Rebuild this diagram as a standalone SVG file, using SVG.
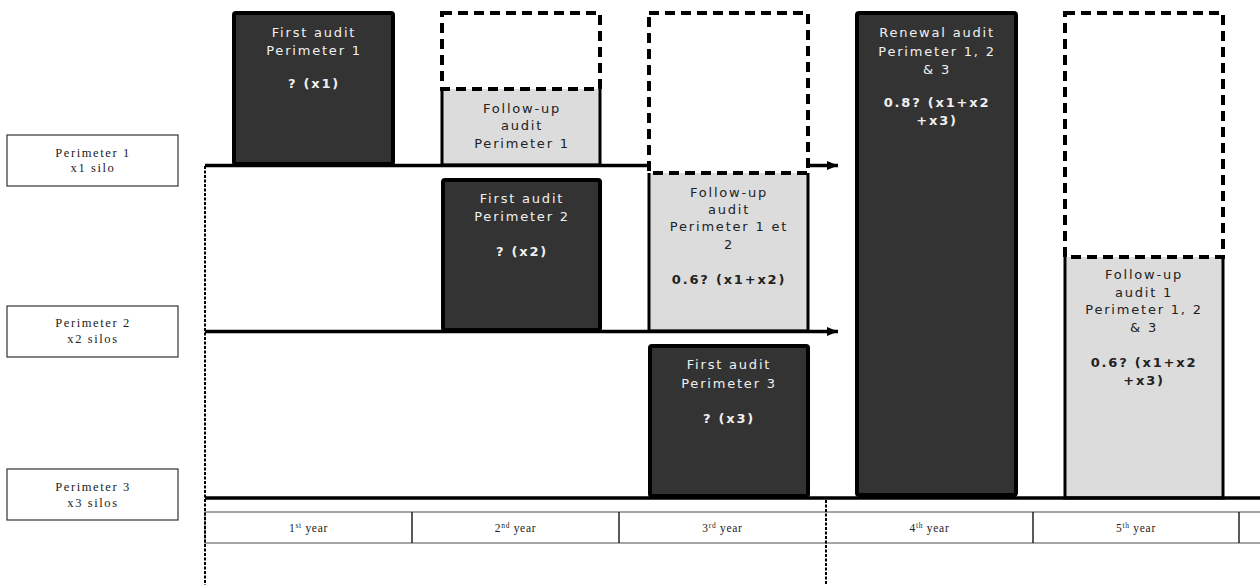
<svg xmlns="http://www.w3.org/2000/svg" width="1260" height="585" viewBox="0 0 1260 585">
<style>
.bg{fill:#ffffff}
.lab{fill:#ffffff;stroke:#333333;stroke-width:1.2}
.labt{font-family:"Liberation Serif",serif;font-size:12.5px;letter-spacing:1.6px;fill:#222222;text-anchor:middle}
.dark{fill:#333333;stroke:#000000;stroke-width:4}
.grayf{fill:#dcdcdc}
.grays{fill:none;stroke:#000000;stroke-width:3}
.dash{fill:none;stroke:#000000;stroke-width:4;stroke-dasharray:10 6}
.dt{font-family:"DejaVu Sans",Verdana,sans-serif;font-size:13px;letter-spacing:1.8px;fill:#f0f0f0;text-anchor:middle}
.gt{font-family:"DejaVu Sans",Verdana,sans-serif;font-size:13px;letter-spacing:1.8px;fill:#222222;text-anchor:middle}
.b{font-weight:bold}
.tl{stroke:#000000;stroke-width:3.5;fill:none}
.dot{stroke:#000000;stroke-width:2;stroke-dasharray:3 1.5;fill:none}
.yr{fill:#ffffff;stroke:#888888;stroke-width:1.5}
.div{stroke:#222222;stroke-width:1.5}
.yt{font-family:"Liberation Serif",serif;font-size:11.5px;letter-spacing:0.7px;fill:#222222;text-anchor:middle}
.sup{font-size:7.5px}
</style>
<defs>
<marker id="arr" markerUnits="userSpaceOnUse" markerWidth="12" markerHeight="12" refX="11" refY="6" orient="auto">
<path d="M0,1.5 L11,6 L0,10.5 Z" fill="#000000"/>
</marker>
</defs>
<rect class="bg" x="0" y="0" width="1260" height="585"/>

<g id="year-row">
<rect class="yr" x="205" y="512" width="1060" height="31"/>
<line class="div" x1="412" y1="512" x2="412" y2="543"/>
<line class="div" x1="619" y1="512" x2="619" y2="543"/>
<line class="div" x1="1033" y1="512" x2="1033" y2="543"/>
<line class="div" x1="1239" y1="512" x2="1239" y2="543"/>
<text class="yt" x="308.5" y="532">1<tspan class="sup" dy="-4">st</tspan><tspan dy="4"> year</tspan></text>
<text class="yt" x="515.5" y="532">2<tspan class="sup" dy="-4">nd</tspan><tspan dy="4"> year</tspan></text>
<text class="yt" x="722.5" y="532">3<tspan class="sup" dy="-4">rd</tspan><tspan dy="4"> year</tspan></text>
<text class="yt" x="929.5" y="532">4<tspan class="sup" dy="-4">th</tspan><tspan dy="4"> year</tspan></text>
<text class="yt" x="1136" y="532">5<tspan class="sup" dy="-4">th</tspan><tspan dy="4"> year</tspan></text>
</g>

<g id="label-p1">
<rect class="lab" x="7" y="135" width="171" height="51"/>
<text class="labt" x="93" y="157">Perimeter 1</text>
<text class="labt" x="93" y="172">x1 silo</text>
</g>
<g id="label-p2">
<rect class="lab" x="7" y="306" width="171" height="51"/>
<text class="labt" x="93" y="327">Perimeter 2</text>
<text class="labt" x="93" y="343">x2 silos</text>
</g>
<g id="label-p3">
<rect class="lab" x="7" y="469" width="171" height="51"/>
<text class="labt" x="93" y="491">Perimeter 3</text>
<text class="labt" x="93" y="507">x3 silos</text>
</g>

<g id="first-audit-p1">
<rect class="dark" x="234" y="13" width="159" height="151" rx="2"/>
<text class="dt" x="314" y="37">First audit</text>
<text class="dt" x="314" y="55">Perimeter 1</text>
<text class="dt b" x="314" y="88">? (x1)</text>
</g>

<g id="followup-p1">
<rect class="grayf" x="442" y="89" width="158" height="76"/>
<path class="grays" d="M442,89 V165 H600 V89"/>
<rect class="dash" x="442" y="13" width="158" height="76"/>
<text class="gt" x="522" y="113">Follow-up</text>
<text class="gt" x="522" y="130">audit</text>
<text class="gt" x="522" y="148">Perimeter 1</text>
</g>

<g id="first-audit-p2">
<rect class="dark" x="443" y="180" width="157" height="150" rx="2"/>
<text class="dt" x="522" y="203">First audit</text>
<text class="dt" x="522" y="221">Perimeter 2</text>
<text class="dt b" x="522" y="256">? (x2)</text>
</g>

<g id="followup-p12">
<rect class="grayf" x="649" y="173" width="159" height="158"/>
<path class="grays" d="M649,173 V331 H808 V173"/>
<rect class="dash" x="649" y="13" width="159" height="160"/>
<text class="gt" x="729" y="197">Follow-up</text>
<text class="gt" x="729" y="214">audit</text>
<text class="gt" x="729" y="231">Perimeter 1 et</text>
<text class="gt" x="729" y="249">2</text>
<text class="gt b" x="729" y="284">0.6? (x1+x2)</text>
</g>

<g id="first-audit-p3">
<rect class="dark" x="650" y="346" width="158" height="150" rx="2"/>
<text class="dt" x="729" y="369">First audit</text>
<text class="dt" x="729" y="388">Perimeter 3</text>
<text class="dt b" x="729" y="423">? (x3)</text>
</g>

<g id="renewal-audit">
<rect class="dark" x="857" y="13" width="159" height="482" rx="2"/>
<text class="dt" x="937" y="37">Renewal audit</text>
<text class="dt" x="937" y="56">Perimeter 1, 2</text>
<text class="dt" x="937" y="74">&amp; 3</text>
<text class="dt b" x="937" y="107">0.8? (x1+x2</text>
<text class="dt b" x="937" y="125">+x3)</text>
</g>

<g id="followup-p123">
<rect class="grayf" x="1065" y="257" width="158" height="241"/>
<path class="grays" d="M1065,257 V498 H1223 V257"/>
<rect class="dash" x="1065" y="13" width="158" height="244"/>
<text class="gt" x="1144" y="279">Follow-up</text>
<text class="gt" x="1144" y="297">audit  1</text>
<text class="gt" x="1144" y="314">Perimeter 1, 2</text>
<text class="gt" x="1144" y="332">&amp; 3</text>
<text class="gt b" x="1144" y="367">0.6? (x1+x2</text>
<text class="gt b" x="1144" y="385">+x3)</text>
</g>

<g id="connectors">
<line class="tl" x1="205" y1="165.5" x2="649" y2="165.5"/>
<line class="tl" x1="808" y1="165.5" x2="838" y2="165.5" marker-end="url(#arr)"/>
<line class="tl" x1="205" y1="331.5" x2="838" y2="331.5" marker-end="url(#arr)"/>
<line class="tl" x1="205" y1="498" x2="1260" y2="498"/>
<line class="dot" x1="205" y1="166" x2="205" y2="585"/>
<line class="dot" x1="826" y1="500" x2="826" y2="585"/>
</g>
</svg>
